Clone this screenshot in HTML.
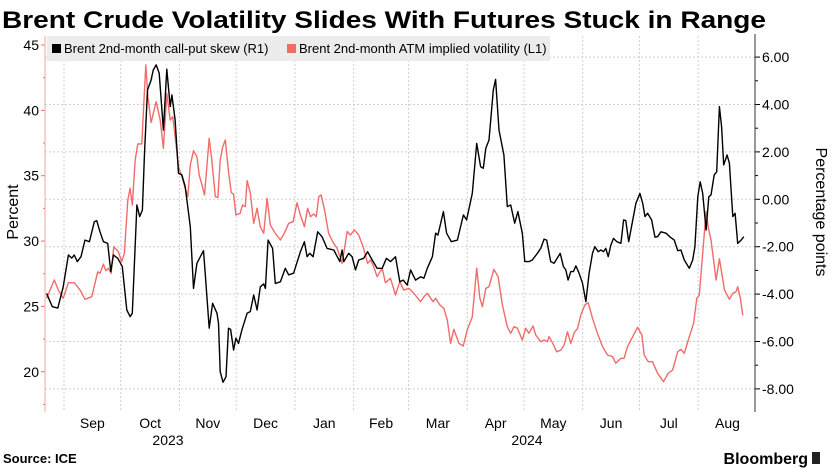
<!DOCTYPE html>
<html><head><meta charset="utf-8"><style>
html,body{margin:0;padding:0;background:#fff;width:834px;height:468px;overflow:hidden}
svg{display:block;font-family:"Liberation Sans",sans-serif}
</style></head><body>
<svg id="chart" width="834" height="468" xmlns="http://www.w3.org/2000/svg">
<text x="2" y="28" font-size="24" font-weight="bold" textLength="764" lengthAdjust="spacingAndGlyphs">Brent Crude Volatility Slides With Futures Stuck in Range</text>
<g id="grid"></g>
<g id="axes"></g>
<rect x="47" y="36" width="503" height="25" fill="#ececec"/>
<rect x="52" y="44" width="9" height="9" fill="#000"/>
<text x="64" y="53" font-size="13">Brent 2nd-month call-put skew (R1)</text>
<rect x="287" y="44" width="9" height="9" fill="#f26b6b"/>
<text x="299" y="53" font-size="13">Brent 2nd-month ATM implied volatility (L1)</text>
<g id="series"></g>
<text transform="translate(18,212) rotate(-90)" text-anchor="middle" font-size="16">Percent</text>
<text transform="translate(816,212) rotate(90)" text-anchor="middle" font-size="16">Percentage points</text>
<text x="168" y="445" text-anchor="middle" font-size="14">2023</text>
<text x="527" y="445" text-anchor="middle" font-size="14">2024</text>
<text x="3" y="463" font-size="13" font-weight="bold">Source: ICE</text>
<text x="808" y="464" text-anchor="end" font-size="16" font-weight="bold">Bloomberg</text>
<rect x="812" y="452" width="8" height="12" fill="#222"/>
</svg>
<script>
// days since 2023-09-01
const skewDays=[-9.2,-6.2,-3.3,-0.4,2.3,4.1,5.4,7.0,9.0,11.1,13.4,16.0,17.3,19.0,20.8,23.1,24.7,26.1,28.4,30.8,33.2,34.9,36.1,38.5,40.0,41.4,42.5,44.1,46.0,47.1,48.7,50.3,52.5,54.3,56.1,57.0,58.7,60.5,62.3,64.0,66.7,68.4,70.2,73.7,74.6,76.7,78.5,80.8,81.6,82.5,84.0,85.6,86.9,88.0,89.6,90.8,92.2,94.0,96.7,98.4,100.2,102.0,103.7,105.5,106.4,107.8,110.2,111.6,114.3,116.9,118.7,121.3,124.9,127.0,128.4,129.8,131.6,134.0,136.3,139.0,142.5,145.7,146.9,147.8,150.4,152.2,154.0,155.7,158.3,160.4,162.8,165.4,168.1,170.3,172.5,175.1,177.4,179.2,181.3,183.1,185.7,188.4,190.1,191.9,194.6,196.3,197.5,200.4,202.1,204.6,207.8,211.0,212.7,215.7,218.0,220.1,221.5,222.8,224.5,226.8,228.0,229.8,232.4,234.2,236.0,238.1,239.8,242.1,243.4,245.6,247.4,250.1,251.8,253.6,255.0,257.1,258.9,262.1,263.8,265.1,266.3,267.7,269.1,270.4,272.1,273.9,275.7,277.4,279.2,280.4,282.2,283.6,285.0,286.2,287.5,288.9,290.3,292.1,294.2,295.6,296.8,298.3,299.8,302.1,304.2,305.7,306.9,308.3,310.4,312.2,313.6,315.3,318.0,320.3,322.4,324.2,325.9,327.7,330.3,332.1,333.3,334.8,336.1,337.4,339.2,340.6,341.8,343.5,344.8,346.2,347.4,348.5,350.3,351.5,353.3,354.5,355.9,357.7,359.1];
const skewValues=[-3.97,-4.53,-4.59,-3.69,-2.35,-2.48,-2.35,-2.63,-2.42,-1.72,-1.79,-0.95,-0.90,-1.37,-1.79,-1.86,-3.05,-2.35,-2.49,-2.84,-4.67,-4.95,-4.81,-0.24,-0.73,-0.45,1.94,4.61,5.03,5.45,5.67,5.32,2.92,5.49,3.91,4.40,3.35,1.10,1.03,0.53,-1.16,-3.76,-2.70,-2.17,-3.12,-5.44,-4.39,-4.81,-5.23,-7.27,-7.72,-7.49,-5.44,-5.49,-6.36,-5.86,-6.08,-5.51,-4.81,-4.74,-4.04,-4.67,-3.69,-3.57,-3.76,-1.72,-2.07,-3.55,-3.48,-2.91,-3.19,-3.12,-2.21,-1.79,-2.42,-2.28,-2.42,-1.37,-1.58,-2.07,-2.14,-2.63,-2.14,-2.63,-2.28,-2.42,-2.98,-2.56,-2.49,-2.21,-2.56,-2.91,-2.91,-2.49,-2.63,-2.42,-3.48,-3.41,-3.62,-2.98,-3.41,-3.27,-3.33,-2.91,-2.42,-1.43,-1.51,-0.52,-1.43,-1.79,-1.72,-0.66,-0.87,0.25,2.36,1.38,1.31,2.15,2.50,4.61,5.06,2.92,1.87,-0.31,-0.24,-1.01,-0.52,-1.43,-2.63,-2.63,-2.56,-2.28,-2.07,-1.68,-1.72,-2.63,-2.70,-2.28,-2.84,-2.98,-3.41,-3.05,-3.05,-2.81,-3.12,-3.54,-4.32,-3.12,-2.28,-2.00,-2.21,-2.14,-2.21,-2.07,-2.42,-1.93,-1.65,-1.79,-1.86,-0.87,-0.90,-1.79,-1.16,-0.17,0.25,-0.17,-0.73,-0.59,-0.87,-1.60,-1.58,-1.37,-1.43,-1.60,-1.72,-2.17,-2.14,-2.56,-2.91,-2.56,-2.00,0.11,0.74,0.25,-1.30,0.11,0.18,1.03,1.16,3.91,3.06,1.45,1.87,1.52,-0.73,-0.59,-1.86,-1.72,-1.58];
const volDays=[-9.2,-7.4,-5.1,-3.0,-0.4,2.3,5.4,8.5,11.1,14.7,17.8,19.0,20.8,22.1,23.4,24.9,26.3,28.7,30.5,31.9,33.7,34.9,36.1,37.6,39.0,41.1,42.0,43.2,44.3,46.0,48.7,50.8,52.5,54.3,56.1,57.5,59.1,60.5,62.3,64.0,65.4,66.7,68.4,70.2,71.4,72.9,74.2,76.7,78.1,79.9,81.3,82.5,83.8,85.2,86.9,88.4,89.6,90.8,93.1,94.3,95.8,96.7,98.4,100.2,102.0,103.7,105.5,107.3,109.0,111.6,114.3,116.4,118.7,121.0,123.1,124.9,127.0,128.7,130.2,131.9,133.3,134.6,135.8,137.6,139.8,142.2,144.3,146.9,149.6,151.3,153.4,155.7,158.0,160.4,161.9,163.6,165.4,168.1,169.8,172.5,175.1,177.4,179.5,182.2,184.8,188.4,190.1,191.9,193.7,195.0,196.3,198.6,200.7,202.5,204.2,205.9,208.6,210.9,213.0,215.7,218.0,219.7,221.0,222.8,224.5,227.1,229.3,231.6,234.2,236.0,237.7,239.5,242.1,243.9,245.6,247.8,249.2,251.8,253.6,255.4,256.2,258.0,260.3,262.4,264.2,266.0,267.7,269.5,271.3,273.0,275.1,276.9,279.2,281.8,284.5,287.1,289.8,291.5,294.2,295.9,297.7,300.4,303.0,305.3,306.5,308.6,310.9,313.6,316.7,319.2,321.5,324.2,325.9,327.7,330.3,332.6,334.3,335.6,337.4,339.2,340.4,341.8,344.5,346.2,348.9,351.5,353.3,355.0,355.9,357.3,358.6];
const volValues=[25.62,26.25,27.02,26.25,25.62,26.81,26.81,26.25,25.54,25.74,27.65,27.53,28.24,27.73,27.92,27.53,29.57,29.19,28.42,29.06,33.14,34.04,32.76,36.20,37.43,37.43,40.03,43.47,41.04,39.06,40.66,39.26,37.10,41.30,39.26,39.51,37.48,35.69,34.92,34.04,33.39,35.82,36.91,36.45,35.05,34.29,33.52,37.86,36.20,33.39,33.35,36.20,37.17,37.73,35.31,33.70,33.60,31.99,32.12,32.76,32.63,34.62,33.70,31.36,32.51,31.10,30.59,33.27,31.23,30.59,30.08,30.59,31.36,31.48,32.93,31.99,31.10,32.51,31.86,32.07,31.86,33.39,33.52,32.38,30.59,29.87,29.44,28.30,30.72,30.46,30.85,30.46,29.57,28.30,28.55,28.04,27.27,27.92,26.81,27.15,25.87,26.89,26.25,26.38,26.00,25.36,25.74,26.00,25.62,25.36,25.62,25.11,24.85,23.96,22.18,23.25,22.18,21.97,23.19,24.21,27.92,25.62,24.98,26.38,26.51,27.84,27.27,25.11,23.45,22.94,23.45,23.33,22.43,23.33,22.94,23.50,22.81,22.30,22.43,22.30,22.69,22.22,21.53,21.66,22.04,23.06,22.17,22.99,23.32,24.34,25.11,25.28,24.09,22.94,21.92,21.28,21.15,20.65,21.03,21.03,21.92,22.68,23.40,22.81,21.28,20.77,20.77,19.88,19.24,19.88,20.13,21.53,21.72,21.41,22.68,23.71,25.62,25.87,29.06,32.25,30.98,30.08,27.02,28.64,26.25,25.54,26.00,26.12,26.51,25.62,24.30];
const monthLabels=["Sep","Oct","Nov","Dec","Jan","Feb","Mar","Apr","May","Jun","Jul","Aug"];
const monthStartDays=[0,30,61,91,122,153,182,213,243,274,304,335];
const leftTicks=[20,25,30,35,40,45];
const rightTicks=[-8,-6,-4,-2,0,2,4,6];

const NS="http://www.w3.org/2000/svg";
const X0=45,X1=755,TOP=36,BOT=412;
function xScale(d){return 64+d*1.893;}
function yLeft(v){return 45+(45-v)*13.07;}
function yRight(v){return 199.3-v*23.7;}
function mk(tag,attrs,parent){const e=document.createElementNS(NS,tag);for(const k in attrs)e.setAttribute(k,attrs[k]);parent.appendChild(e);return e;}
const grid=document.getElementById('grid'),axes=document.getElementById('axes'),series=document.getElementById('series');

rightTicks.forEach(v=>{
  const y=yRight(v);
  const g=mk('line',{x1:X0,x2:X1,y1:y,y2:y,stroke:'#cfcfcf','stroke-dasharray':'2,2','stroke-width':1},grid);
  
  
  const t=mk('line',{x1:X1,x2:X1+5,y1:y,y2:y,stroke:'#000'},axes);
  
  
  const l=mk('text',{x:X1+7,y:y+5,'font-size':14},axes);
  l.textContent=v.toFixed(2);
  
  
});
for(let v=-9;v<=6;v+=2){const y=yRight(v);if(y>TOP&&y<BOT){const t=mk('line',{x1:X1,x2:X1+3,y1:y,y2:y,stroke:'#000'},axes);
  
  }}
monthStartDays.forEach((d,i)=>{
  const x=xScale(d);
  const g=mk('line',{x1:x,x2:x,y1:TOP,y2:BOT,stroke:'#cfcfcf','stroke-dasharray':'2,2'},grid);
  
  
  const next=i<monthStartDays.length-1?monthStartDays[i+1]:366;
  const l=mk('text',{x:xScale((d+next)/2),y:428,'text-anchor':'middle','font-size':14},axes);
  l.textContent=monthLabels[i];
  
  
});
leftTicks.forEach(v=>{
  const y=yLeft(v);
  const t=mk('line',{x1:X0-4,x2:X0,y1:y,y2:y,stroke:'#f26b6b'},axes);
  
  
  const l=mk('text',{x:X0-6,y:y+5,'text-anchor':'end','font-size':14},axes);
  l.textContent=v;
  
  
});
for(let v=17.5;v<=45;v+=5){const y=yLeft(v);if(y<BOT){const t=mk('line',{x1:X0-2,x2:X0,y1:y,y2:y,stroke:'#f26b6b'},axes);
  
  }}
const la=mk('line',{x1:X0,x2:X0,y1:TOP,y2:BOT,stroke:'#f5a0a0'},axes);


const ra=mk('line',{x1:X1,x2:X1,y1:TOP-2,y2:BOT,stroke:'#333'},axes);



function path(days,vals,yf){return days.map((d,i)=>(i?'L':'M')+xScale(d).toFixed(1)+','+yf(vals[i]).toFixed(1)).join(' ');}
const pv=mk('path',{d:path(volDays,volValues,yLeft),fill:'none',stroke:'#f26b6b','stroke-width':1.4,'stroke-linejoin':'round'},series);


const ps=mk('path',{d:path(skewDays,skewValues,yRight),fill:'none',stroke:'#000','stroke-width':1.4,'stroke-linejoin':'round'},series);


</script>
</body></html>
